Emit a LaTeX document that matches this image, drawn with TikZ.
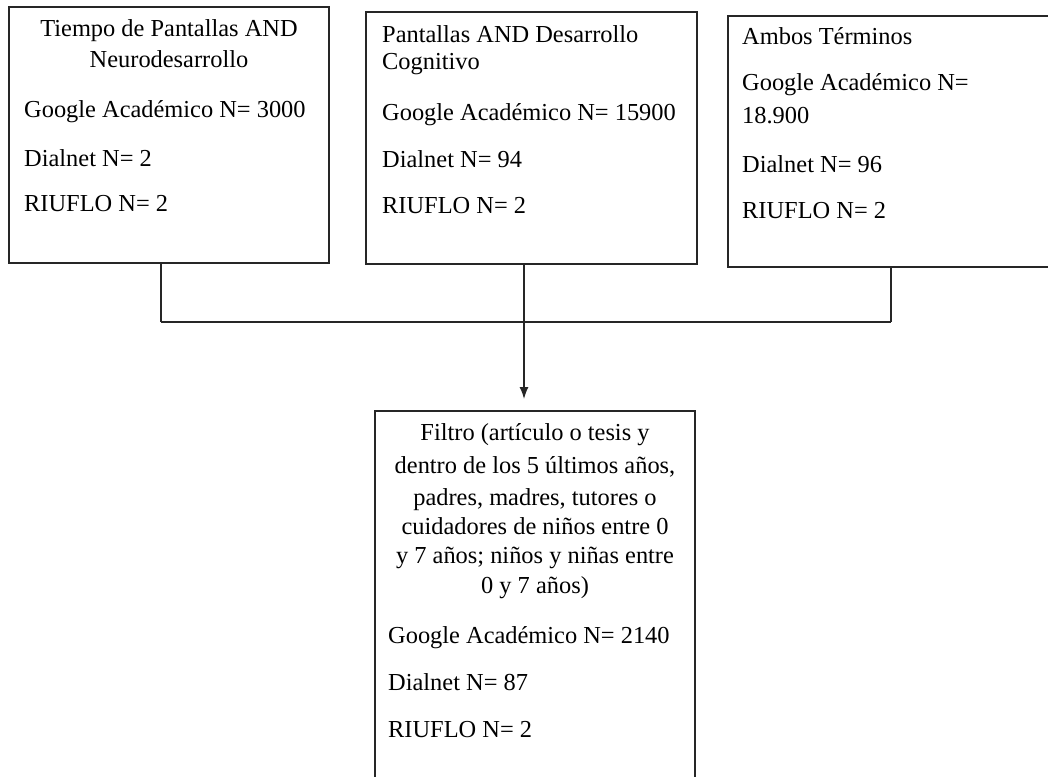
\documentclass[tikz,border=0pt]{standalone}
\usepackage{fontspec}
\setmainfont{Liberation Serif}
\usetikzlibrary{arrows.meta}
\begin{document}
\begin{tikzpicture}[x=1pt,y=-1pt,
  box/.style={draw=black!85,line width=1.3pt,fill=none},
  conn/.style={draw=black!85,line width=1.3pt},
  tl/.style={anchor=base west,inner sep=0pt,font=\fontsize{24.4}{30}\selectfont},
  tc/.style={anchor=base,inner sep=0pt,font=\fontsize{24.4}{30}\selectfont}]
\useasboundingbox (0,0) rectangle (1048,776);
\clip (0,0) rectangle (1048,776);
\fill[white] (0,0) rectangle (1048,776);
% boxes
\draw[box] (9,7) rectangle (329,263);
\coordinate (b1s) at (169,263);
\draw[box] (366,12) rectangle (697,264);
\coordinate (b2s) at (531,264);
\draw[box] (728,16) rectangle (1062,267);
\coordinate (b3s) at (894,267);
\draw[box] (375,411) rectangle (695,800);
\coordinate (b4n) at (535,411);
% box 1 text
\node[tc] (t11) at (169,37) {Tiempo de Pantallas AND};
\node[tc] (t12) at (169,67) {Neurodesarrollo};
\node[tl] (t13) at (24,117) {Google Académico N= 3000};
\node[tl] (t14) at (24,166) {Dialnet N= 2};
\node[tl] (t15) at (24,211) {RIUFLO N= 2};
% box 2 text
\node[tl] (t21) at (382,42) {Pantallas AND Desarrollo};
\node[tl] (t22) at (382,70) {Cognitivo};
\node[tl] (t23) at (382,120) {Google Académico N= 15900};
\node[tl] (t24) at (382,167) {Dialnet N= 94};
\node[tl] (t25) at (382,213) {RIUFLO N= 2};
% box 3 text
\node[tl] (t31) at (742,45) {Ambos Términos};
\node[tl] (t32) at (742,90) {Google Académico N=};
\node[tl] (t33) at (742,123) {18.900};
\node[tl] (t34) at (742,172) {Dialnet N= 96};
\node[tl] (t35) at (742,218) {RIUFLO N= 2};
% box 4 text
\node[tc] (t41) at (535,440) {Filtro (artículo o tesis y};
\node[tc] (t42) at (535,473) {dentro de los 5 últimos años,};
\node[tc] (t43) at (535,505) {padres, madres, tutores o};
\node[tc] (t44) at (535,534) {cuidadores de niños entre 0};
\node[tc] (t45) at (535,563) {y 7 años; niños y niñas entre};
\node[tc] (t46) at (535,593) {0 y 7 años)};
\node[tl] (t47) at (388,643) {Google Académico N= 2140};
\node[tl] (t48) at (388,690) {Dialnet N= 87};
\node[tl] (t49) at (388,737) {RIUFLO N= 2};
% connectors
\coordinate (j1) at (161,322);
\coordinate (j2) at (524,322);
\coordinate (j3) at (891,322);
\coordinate (a4) at (524,399);
\draw[conn] (j1 |- b1s) -- (j1);
\draw[conn] (j2 |- b2s) -- (j2);
\draw[conn] (j3 |- b3s) -- (j3);
\draw[conn] (j1) -- (j3);
\draw[conn,-{Latex[length=12pt,width=9pt]}] (j2) -- (a4);
\end{tikzpicture}
\end{document}
